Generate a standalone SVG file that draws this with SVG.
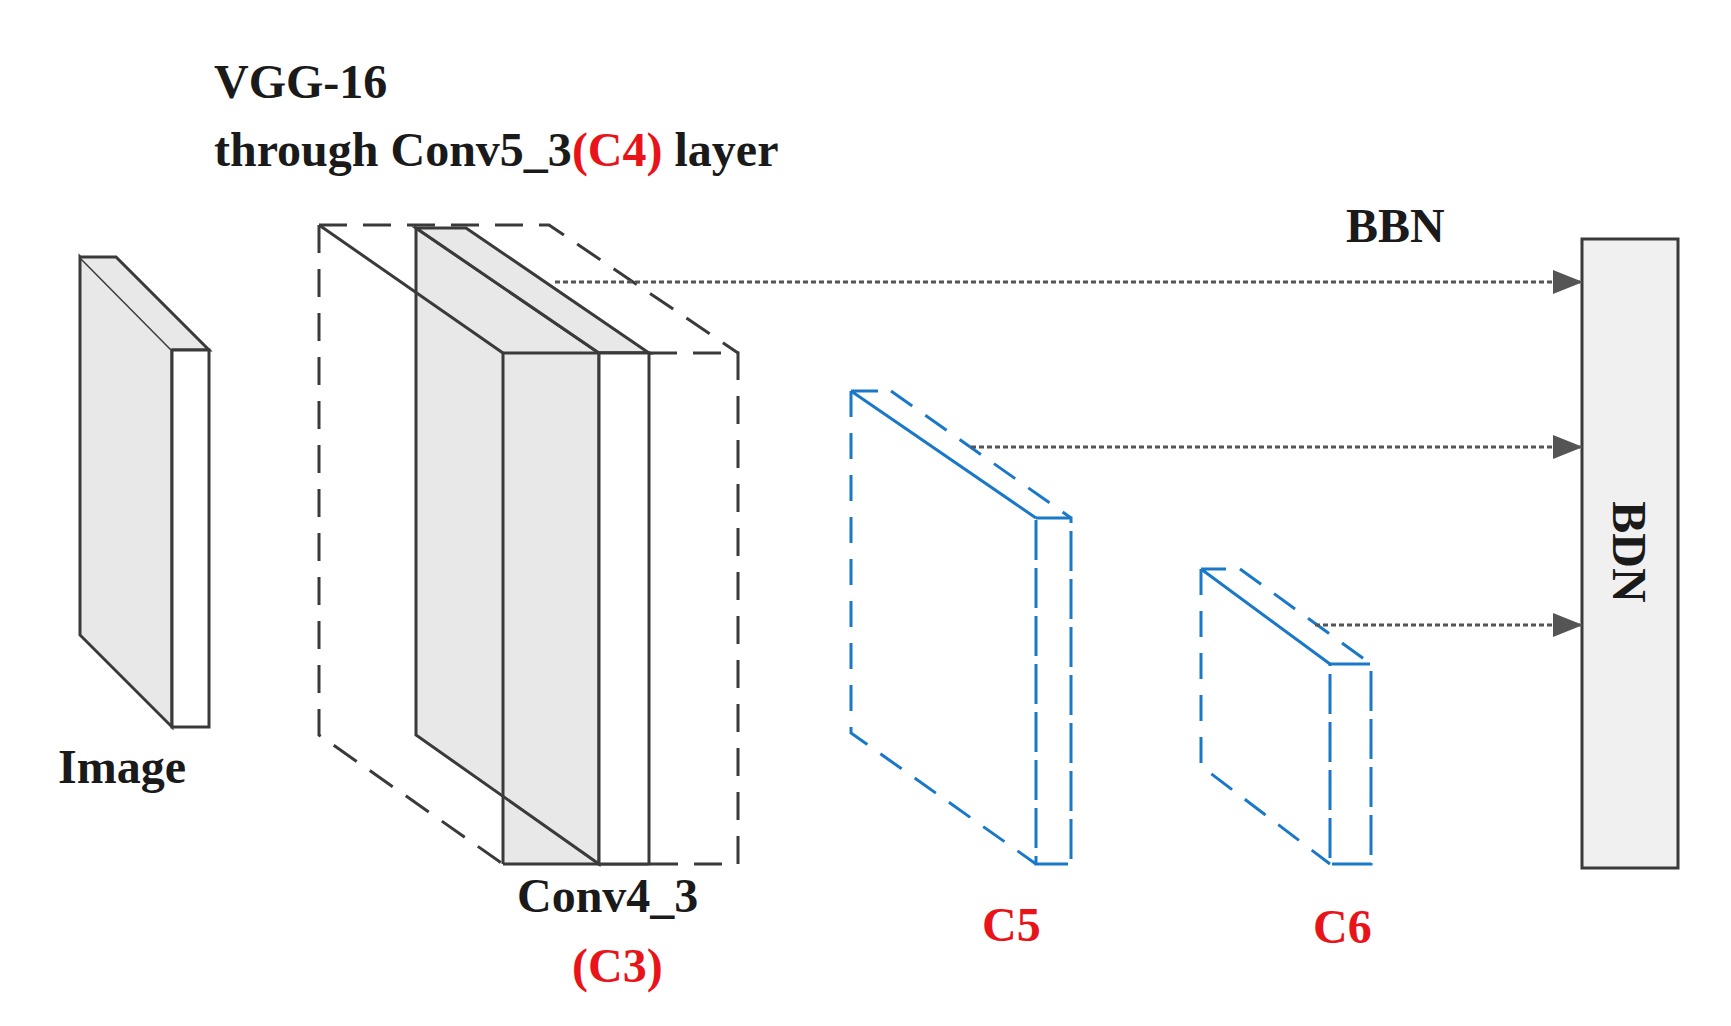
<svg xmlns="http://www.w3.org/2000/svg" width="1731" height="1026" viewBox="0 0 1731 1026">
<style>
.t{font-family:"Liberation Serif",serif;font-weight:bold;font-size:48px;fill:#1a1a1a}
.r{fill:#e8141a}
.s{stroke:#3a3a3a;stroke-width:3;fill:none}
.d{stroke:#3a3a3a;stroke-width:3;fill:none;stroke-dasharray:28,16}
.b{stroke:#1a78c8;stroke-width:3;fill:none}
.bd{stroke:#1a78c8;stroke-width:3;fill:none;stroke-dasharray:26,16}
.c{stroke:#555;stroke-width:3;stroke-dasharray:5,3;fill:none}
</style>
<defs><marker id="a" markerWidth="10" markerHeight="8" refX="9" refY="4" orient="auto" markerUnits="strokeWidth"><path d="M0,0L10,4L0,8z" fill="#555"/></marker></defs>
<rect width="1731" height="1026" fill="#fff"/>
<g id="title"><text class="t" x="214" y="98">VGG-16</text><text class="t" x="214" y="166">through Conv5_3<tspan class="r">(C4)</tspan> layer</text></g>
<g id="image">
<path d="M80,257L172,350L172,727L80,635Z" fill="#e8e8e8" stroke="#3a3a3a" stroke-width="3"/>
<path d="M80,257L116,257L209,350L172,350" fill="#e8e8e8" stroke="#3a3a3a" stroke-width="3"/>
<rect x="172" y="350" width="37" height="377" fill="#fff" stroke="#3a3a3a" stroke-width="3"/>
<text class="t" x="58" y="783">Image</text>
</g>
<g id="vgg">
<path class="d" d="M319,225L319,735L503,864M319,225L549,225L738,353"/>
<rect x="503" y="353" width="96" height="511" fill="#e8e8e8"/>
<path d="M416,228L599,353L599,864L416,735Z" fill="#e8e8e8" stroke="#3a3a3a" stroke-width="3"/>
<path d="M416,228L466,228L649,353L599,353Z" fill="#e8e8e8" stroke="#3a3a3a" stroke-width="3"/>
<line class="s" x1="319" y1="225" x2="503" y2="353"/>
<line class="s" x1="503" y1="353" x2="503" y2="864"/>
<path class="s" d="M503,353L649,353M503,864L649,864"/>
<rect x="599" y="353" width="50" height="511" fill="#fff" stroke="#3a3a3a" stroke-width="3"/>
<path class="d" d="M649,353L738,353L738,864L649,864"/>
<text class="t" x="517" y="912">Conv4_3</text>
<text class="t r" x="572" y="982">(C3)</text>
</g>
<g id="c5">
<path class="bd" d="M851,391L851,733L1036,864M891,391L1071,518"/>
<path class="b" d="M851,391L878,391M851,391L1036,518"/>
<rect class="b" x="1036" y="518" width="35" height="346" stroke-dasharray="40,8"/>
<text class="t r" x="982" y="941">C5</text>
</g>
<g id="c6">
<path class="bd" d="M1201,569L1201,766L1330,864M1240,569L1371,664"/>
<path class="b" d="M1201,569L1226,569M1201,569L1330,664"/>
<rect class="b" x="1330" y="664" width="41" height="200" stroke-dasharray="40,8"/>
<text class="t r" x="1313" y="943">C6</text>
</g>
<g id="bdn">
<rect x="1582" y="239" width="96" height="629" fill="#f0f0f0" stroke="#3a3a3a" stroke-width="3"/>
<text class="t" transform="translate(1613,552) rotate(90)" text-anchor="middle">BDN</text>
</g>
<text class="t" x="1346" y="242">BBN</text>
<g id="connectors">
<line class="c" x1="555" y1="282" x2="1580" y2="282" marker-end="url(#a)"/>
<line class="c" x1="971" y1="447" x2="1580" y2="447" marker-end="url(#a)"/>
<line class="c" x1="1315" y1="625" x2="1580" y2="625" marker-end="url(#a)"/>
</g>
</svg>
